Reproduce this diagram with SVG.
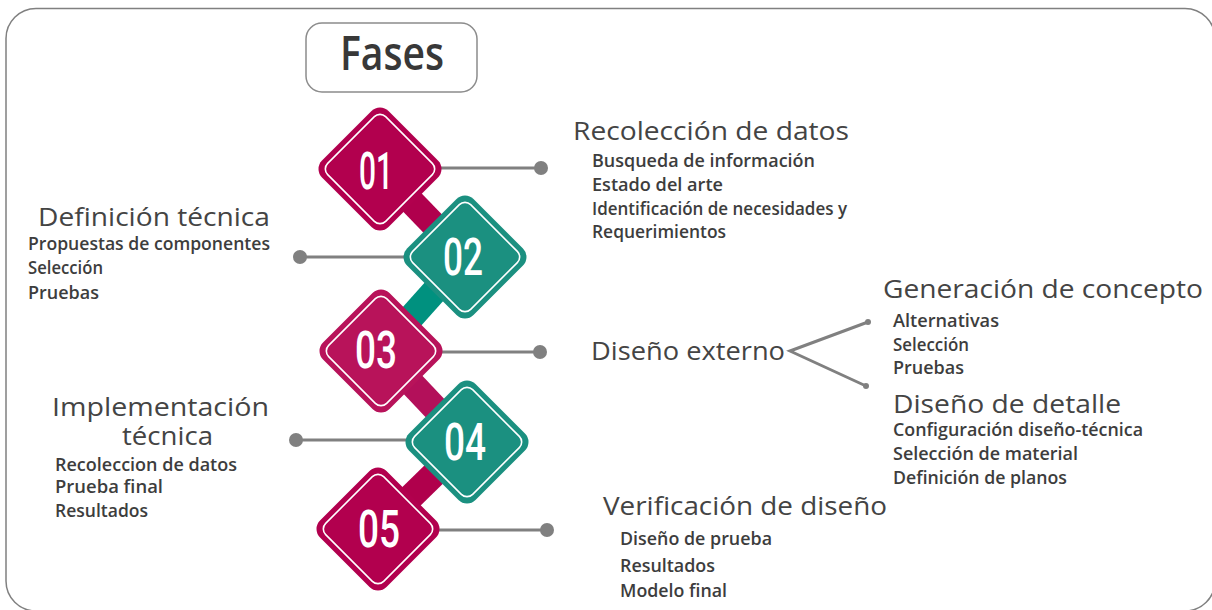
<svg xmlns="http://www.w3.org/2000/svg" width="1212" height="610" viewBox="0 0 1212 610">
<style>
.h{font-family:"Open Sans","Liberation Sans",sans-serif;font-size:25px;fill:#444;}
.s{font-family:"Open Sans","Liberation Sans",sans-serif;font-size:17.5px;font-weight:600;fill:#3d3d3d;}
.num{font-family:Roboto,"Liberation Sans",sans-serif;font-weight:500;font-size:51px;fill:#fff;text-anchor:middle;}
.ln{stroke:#808080;stroke-width:3;fill:none;}
.dot{fill:#808080;}
.in{fill:none;stroke:#fff;stroke-width:1.6;}
.bar{stroke-width:26;stroke-linecap:butt;}
</style>
<rect x="6" y="8.5" width="1209" height="602.5" rx="30" fill="#fff" stroke="#808080" stroke-width="1.5"/>
<g id="fases">
<rect x="306" y="23" width="171" height="69" rx="16" fill="#fff" stroke="#8c8c8c" stroke-width="1.5"/>
<text x="392" y="70" text-anchor="middle" font-family="Open Sans, Liberation Sans, sans-serif" font-size="47" font-weight="600" fill="#383838" textLength="104" lengthAdjust="spacingAndGlyphs">Fases</text>
</g>
<g id="connectors">
<line class="bar" x1="380" y1="169" x2="465" y2="257" stroke="#b0004d"/>
<line class="bar" x1="465" y1="257" x2="381" y2="351" stroke="#00917f"/>
<line class="bar" x1="381" y1="351" x2="467" y2="442" stroke="#b3105a"/>
<line class="bar" x1="467" y1="442" x2="378" y2="529" stroke="#b0004c"/>
<line class="ln" x1="440" y1="168" x2="541" y2="168"/>
<circle class="dot" cx="541" cy="168" r="7"/>
<line class="ln" x1="300" y1="257" x2="405" y2="257"/>
<circle class="dot" cx="300" cy="257" r="7"/>
<line class="ln" x1="440" y1="352" x2="540" y2="352"/>
<circle class="dot" cx="540" cy="352" r="7"/>
<line class="ln" x1="296" y1="440" x2="408" y2="440"/>
<circle class="dot" cx="296" cy="440" r="7"/>
<line class="ln" x1="438" y1="530" x2="547" y2="530"/>
<circle class="dot" cx="547" cy="530" r="7"/>
<polyline class="ln" points="868,322 790,351 866,386"/>
<circle class="dot" cx="868" cy="322" r="3"/>
<circle class="dot" cx="866" cy="386" r="3"/>
</g>
<g id="n01">
<g transform="translate(380,169) rotate(45)"><rect x="-47" y="-47" width="94" height="94" rx="12" fill="#b2004e"/><rect class="in" x="-41" y="-41" width="82" height="82" rx="8"/></g>
<text class="num" x="376" y="189" textLength="34" lengthAdjust="spacingAndGlyphs">01</text>
</g>
<g id="n02">
<g transform="translate(465,257) rotate(45)"><rect x="-47" y="-47" width="94" height="94" rx="12" fill="#1b9080"/><rect class="in" x="-41" y="-41" width="82" height="82" rx="8"/></g>
<text class="num" x="463" y="275" textLength="40" lengthAdjust="spacingAndGlyphs">02</text>
</g>
<g id="n03">
<g transform="translate(381,351) rotate(45)"><rect x="-47" y="-47" width="94" height="94" rx="12" fill="#b8135a"/><rect class="in" x="-41" y="-41" width="82" height="82" rx="8"/></g>
<text class="num" x="376" y="368" textLength="42" lengthAdjust="spacingAndGlyphs">03</text>
</g>
<g id="n04">
<g transform="translate(467,442) rotate(45)"><rect x="-47" y="-47" width="94" height="94" rx="12" fill="#1b9080"/><rect class="in" x="-41" y="-41" width="82" height="82" rx="8"/></g>
<text class="num" x="465" y="460" textLength="42" lengthAdjust="spacingAndGlyphs">04</text>
</g>
<g id="n05">
<g transform="translate(378,529) rotate(45)"><rect x="-47" y="-47" width="94" height="94" rx="12" fill="#b2004e"/><rect class="in" x="-41" y="-41" width="82" height="82" rx="8"/></g>
<text class="num" x="379" y="547" textLength="42" lengthAdjust="spacingAndGlyphs">05</text>
</g>
<g id="recoleccion">
<text class="h" x="573" y="140" textLength="276" lengthAdjust="spacingAndGlyphs">Recolección de datos</text>
<text class="s" x="592" y="167" textLength="223" lengthAdjust="spacingAndGlyphs">Busqueda de información</text>
<text class="s" x="592" y="191" textLength="131" lengthAdjust="spacingAndGlyphs">Estado del arte</text>
<text class="s" x="592" y="215" textLength="255" lengthAdjust="spacingAndGlyphs">Identificación de necesidades y</text>
<text class="s" x="592" y="238" textLength="134" lengthAdjust="spacingAndGlyphs">Requerimientos</text>
</g>
<g id="definicion">
<text class="h" x="38" y="226" textLength="232" lengthAdjust="spacingAndGlyphs">Definición técnica</text>
<text class="s" x="28" y="250" textLength="242" lengthAdjust="spacingAndGlyphs">Propuestas de componentes</text>
<text class="s" x="28" y="274" textLength="75" lengthAdjust="spacingAndGlyphs">Selección</text>
<text class="s" x="28" y="299" textLength="71" lengthAdjust="spacingAndGlyphs">Pruebas</text>
</g>
<g id="externo">
<text class="h" x="591" y="360" textLength="194" lengthAdjust="spacingAndGlyphs">Diseño externo</text>
</g>
<g id="concepto">
<text class="h" x="883" y="298" textLength="320" lengthAdjust="spacingAndGlyphs">Generación de concepto</text>
<text class="s" x="893" y="327" textLength="106" lengthAdjust="spacingAndGlyphs">Alternativas</text>
<text class="s" x="893" y="351" textLength="76" lengthAdjust="spacingAndGlyphs">Selección</text>
<text class="s" x="893" y="374" textLength="71" lengthAdjust="spacingAndGlyphs">Pruebas</text>
</g>
<g id="detalle">
<text class="h" x="893" y="413" textLength="228" lengthAdjust="spacingAndGlyphs">Diseño de detalle</text>
<text class="s" x="893" y="436" textLength="250" lengthAdjust="spacingAndGlyphs">Configuración diseño-técnica</text>
<text class="s" x="893" y="460" textLength="185" lengthAdjust="spacingAndGlyphs">Selección de material</text>
<text class="s" x="893" y="484" textLength="174" lengthAdjust="spacingAndGlyphs">Definición de planos</text>
</g>
<g id="implementacion">
<text class="h" x="52" y="416" textLength="217" lengthAdjust="spacingAndGlyphs">Implementación</text>
<text class="h" x="122" y="445" textLength="91" lengthAdjust="spacingAndGlyphs">técnica</text>
<text class="s" x="55" y="471" textLength="182" lengthAdjust="spacingAndGlyphs">Recoleccion de datos</text>
<text class="s" x="55" y="493" textLength="108" lengthAdjust="spacingAndGlyphs">Prueba final</text>
<text class="s" x="55" y="517" textLength="93" lengthAdjust="spacingAndGlyphs">Resultados</text>
</g>
<g id="verificacion">
<text class="h" x="603" y="515" textLength="284" lengthAdjust="spacingAndGlyphs">Verificación de diseño</text>
<text class="s" x="620" y="545" textLength="152" lengthAdjust="spacingAndGlyphs">Diseño de prueba</text>
<text class="s" x="620" y="572" textLength="95" lengthAdjust="spacingAndGlyphs">Resultados</text>
<text class="s" x="620" y="597" textLength="107" lengthAdjust="spacingAndGlyphs">Modelo final</text>
</g>
</svg>
